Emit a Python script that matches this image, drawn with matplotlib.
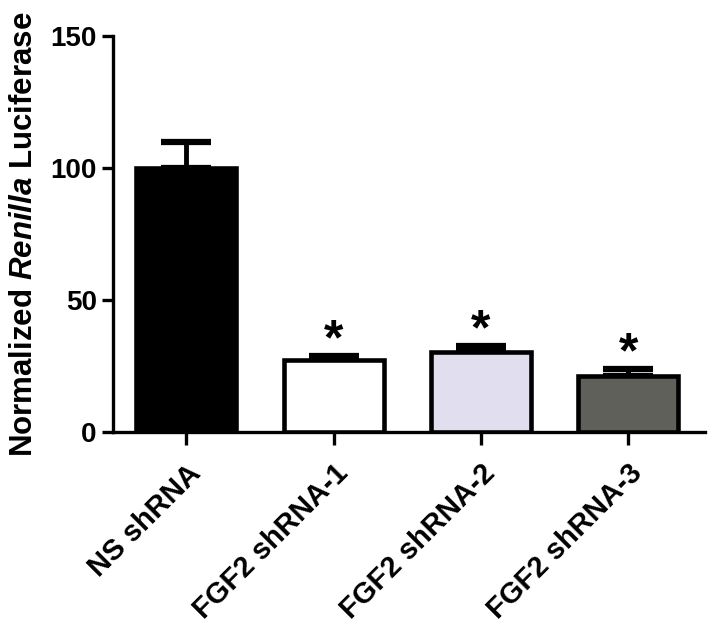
import matplotlib
matplotlib.use("Agg")
import matplotlib.pyplot as plt
import numpy as np

categories = ["NS shRNA", "FGF2 shRNA-1", "FGF2 shRNA-2", "FGF2 shRNA-3"]
values = [100.0, 27.3, 30.3, 21.2]
errors = [10.0, 1.5, 2.2, 2.6]
colors = ["#000000", "#FFFFFF", "#E0DEEF", "#5F605A"]
significant = [False, True, True, True]
yticks = [0, 50, 100, 150]

plt.rcParams['font.family'] = ['Liberation Sans', 'DejaVu Sans']
plt.rcParams['mathtext.fontset'] = 'custom'
plt.rcParams['mathtext.it'] = 'Liberation Sans:italic:bold'
plt.rcParams['mathtext.rm'] = 'Liberation Sans:bold'

fig = plt.figure(figsize=(7.14, 6.3), dpi=100)
ax = fig.add_axes([0.158, 0.314, 0.829, 0.629])

x = np.arange(len(categories))
ax.bar(x, values, width=0.68, color=colors, edgecolor="black", linewidth=3.3, zorder=3)
ax.errorbar(x, values, yerr=[np.zeros(len(errors)), errors], fmt='none', ecolor='black',
            elinewidth=3.5, capsize=18, capthick=4.5, zorder=2)

for xi, v, e, s in zip(x, values, errors, significant):
    if s:
        ax.annotate("*", (xi, v + e), xytext=(0, -6), textcoords='offset points',
                    ha='center', va='bottom', fontsize=36, fontweight='bold')

ax.set_xlim(-0.5, 3.52)
ax.set_ylim(0, 150)
ax.set_yticks(yticks)
ax.set_yticklabels([str(t) for t in yticks], fontsize=20, fontweight='bold')
ax.set_xticks(x)
ax.set_xticklabels(categories, rotation=45, ha='right', va='top', rotation_mode='anchor',
                   fontsize=21, fontweight='bold')
ax.tick_params(axis='both', width=2.4, length=8, direction='out')
ax.tick_params(axis='x', length=9.5, pad=10)
for sp in ['top', 'right']:
    ax.spines[sp].set_visible(False)
for sp in ['left', 'bottom']:
    ax.spines[sp].set_linewidth(2.4)

ax.set_ylabel("Normalized $\\mathit{Renilla}$ Luciferase", fontsize=22.5, fontweight='bold', labelpad=8)

fig.savefig("out.png", dpi=100)
